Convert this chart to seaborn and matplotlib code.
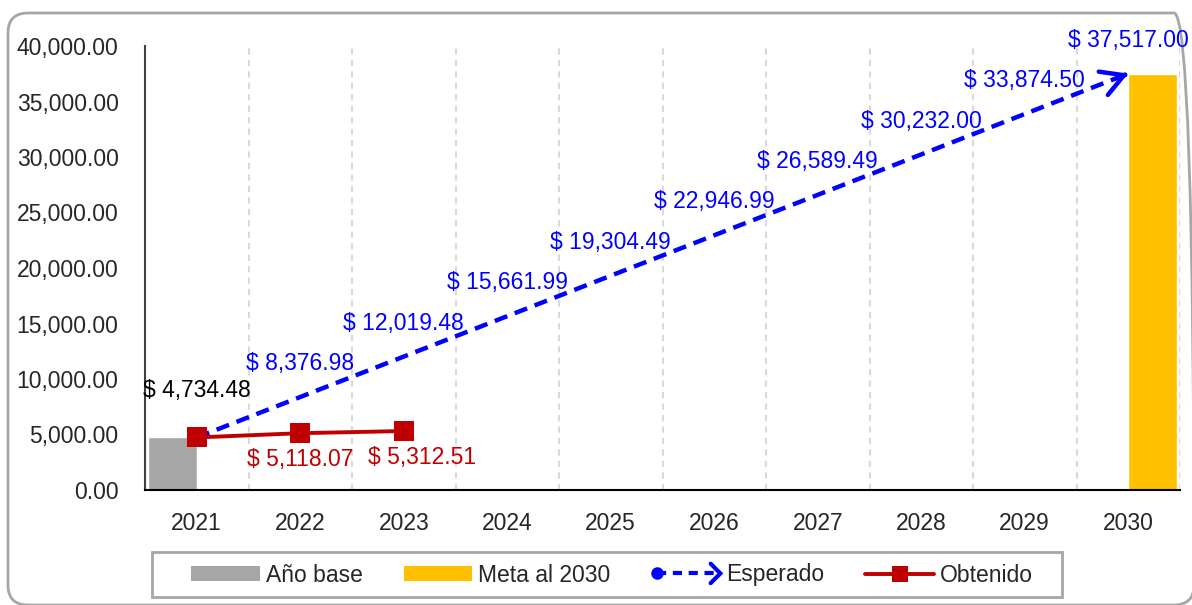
import numpy as np
import pandas as pd
import matplotlib.pyplot as plt
import seaborn as sns
from matplotlib.lines import Line2D
from matplotlib.patches import Patch, FancyBboxPatch, Rectangle
from matplotlib.legend_handler import HandlerBase
from matplotlib.ticker import FuncFormatter

years = ["2021", "2022", "2023", "2024", "2025", "2026", "2027", "2028", "2029", "2030"]
base_year = ["2021"]
base_value = [4734.48]
goal_year = ["2030"]
goal_value = [37517.00]
expected = [4734.48, 8376.98, 12019.48, 15661.99, 19304.49,
            22946.99, 26589.49, 30232.00, 33874.50, 37517.00]
obtained = [4734.48, 5118.07, 5312.51]

BLUE = "#0000FF"
RED = "#C00000"
GRAY = "#A6A6A6"
GOLD = "#FFC000"
FS = 16.5


class ExpectedHandler(HandlerBase):
    # circulo + linea discontinua + flecha, como en la leyenda original
    def create_artists(self, legend, orig_handle, xdescent, ydescent,
                       width, height, fontsize, trans):
        y = height / 2 - ydescent
        x0, x1 = -xdescent + 4, -xdescent + width
        line = Line2D([x0, x1 - 2], [y, y], color=BLUE, lw=3,
                      linestyle=(0, (2.2, 1.6)), transform=trans)
        dot = Line2D([x0], [y], marker="o", markersize=9, color=BLUE,
                     markeredgewidth=0, transform=trans)
        head = Line2D([x1 - 7, x1, x1 - 7], [y + 7, y, y - 7], color=BLUE,
                      lw=3, transform=trans, solid_joinstyle="miter")
        return [line, dot, head]


def main():
    sns.set_style("white")
    plt.rcParams["font.family"] = ["Liberation Sans", "DejaVu Sans"]

    fig = plt.figure(figsize=(11.92, 6.05), dpi=100)
    ax = fig.add_axes([145 / 1192, 1 - 490 / 605, (1180 - 145) / 1192, (490 - 46) / 605])

    # marco redondeado del grafico (en pixeles, se sale por la derecha y abajo)
    frame = FancyBboxPatch((8, 0), 1186, 592,
                           boxstyle="round,pad=0,rounding_size=20",
                           transform=None, facecolor="none",
                           edgecolor=GRAY, lw=2, zorder=0)
    fig.add_artist(frame)

    bars = pd.DataFrame({
        "year": base_year + goal_year,
        "serie": ["Año base", "Meta al 2030"],
        "valor": base_value + goal_value,
    })
    sns.barplot(data=bars, x="year", y="valor", hue="serie", order=years,
                hue_order=["Año base", "Meta al 2030"], palette=[GRAY, GOLD],
                width=0.94, dodge=True, saturation=1, legend=False, ax=ax, zorder=2)

    # lineas de cuadricula verticales entre categorias
    for b in np.arange(0.5, len(years), 1):
        ax.axvline(b, color="#D9D9D9", lw=1.5, linestyle=(0, (3, 2.5)), zorder=1)

    x_exp = np.arange(len(expected))
    sns.lineplot(x=x_exp, y=expected, color=BLUE, linewidth=3.2,
                 linestyle=(0, (3.0, 1.8)), ax=ax, zorder=3)
    ax.plot(x_exp[0], expected[0], marker="o", color=BLUE, markersize=8, zorder=3)
    slope = expected[-1] - expected[-2]
    ax.annotate("", xy=(x_exp[-1], expected[-1]),
                xytext=(x_exp[-1] - 0.04, expected[-1] - 0.04 * slope),
                arrowprops=dict(arrowstyle="->,head_length=0.8,head_width=0.45",
                                color=BLUE, lw=3.2, mutation_scale=20,
                                shrinkA=0, shrinkB=0), zorder=3)

    x_obt = np.arange(len(obtained))
    sns.lineplot(x=x_obt, y=obtained, color=RED, linewidth=2.8, marker="s",
                 markersize=14, markeredgewidth=0, ax=ax, zorder=4)

    # etiquetas de datos
    for i, v in enumerate(expected):
        if i == 0:
            continue
        ax.annotate(f"$ {v:,.2f}", (i, v), xytext=(0, 24), textcoords="offset points",
                    ha="center", va="center", color=BLUE, fontsize=FS)
    ax.annotate(f"$ {base_value[0]:,.2f}", (0, base_value[0]), xytext=(0, 34),
                textcoords="offset points", ha="center", va="center",
                color="black", fontsize=FS)
    red_dx = [0, 0, 13]
    for i, v in enumerate(obtained):
        if i == 0:
            continue
        ax.annotate(f"$ {v:,.2f}", (i, v), xytext=(red_dx[i], -19), textcoords="offset points",
                    ha="center", va="center", color=RED, fontsize=FS)

    # ejes
    ax.set_ylim(0, 40000)
    ax.set_xlim(-0.5, len(years) - 0.5)
    ax.set_yticks(np.arange(0, 40001, 5000))
    ax.yaxis.set_major_formatter(FuncFormatter(lambda v, p: f"{v:,.2f}"))
    ax.set_xticks(np.arange(-0.5, len(years), 1))
    ax.set_xticklabels([])
    ax.set_xticks(np.arange(len(years)), minor=True)
    ax.set_xticklabels(years, minor=True)
    ax.tick_params(axis="x", which="major", length=7, width=1.5, color="black")
    ax.tick_params(axis="x", which="minor", length=0, pad=16, labelsize=FS)
    ax.tick_params(axis="y", length=7, width=1.5, color="#404040", pad=12, labelsize=FS)
    ax.set_xlabel("")
    ax.set_ylabel("")
    for s in ["top", "right"]:
        ax.spines[s].set_visible(False)
    ax.spines["left"].set_color("#404040")
    ax.spines["left"].set_linewidth(1.5)
    ax.spines["bottom"].set_color("black")
    ax.spines["bottom"].set_linewidth(1.5)
    ax.set_facecolor("none")

    # leyenda: marco dibujado aparte para reproducir los margenes de Excel
    fig.add_artist(Rectangle((152, 8), 910, 45, transform=None, facecolor="white",
                             edgecolor=GRAY, lw=2, zorder=1))
    handles = [
        Patch(facecolor=GRAY, edgecolor="none"),
        Patch(facecolor=GOLD, edgecolor="none"),
        Line2D([], [], color=BLUE),
        Line2D([], [], color=RED, lw=2.8, marker="s", markersize=12, markeredgewidth=0),
    ]
    labels = ["Año base", "Meta al 2030", "Esperado", "Obtenido"]
    fig.legend(handles, labels, ncol=4, loc="center",
               bbox_to_anchor=(612 / 1192, 1 - 575 / 605),
               frameon=False, fontsize=FS,
               handlelength=3.0, handleheight=0.6, handletextpad=0.25,
               columnspacing=1.8, borderpad=0.4,
               handler_map={handles[2]: ExpectedHandler()})

    fig.savefig("out.png", dpi=100)
    plt.close(fig)


if __name__ == "__main__":
    main()
